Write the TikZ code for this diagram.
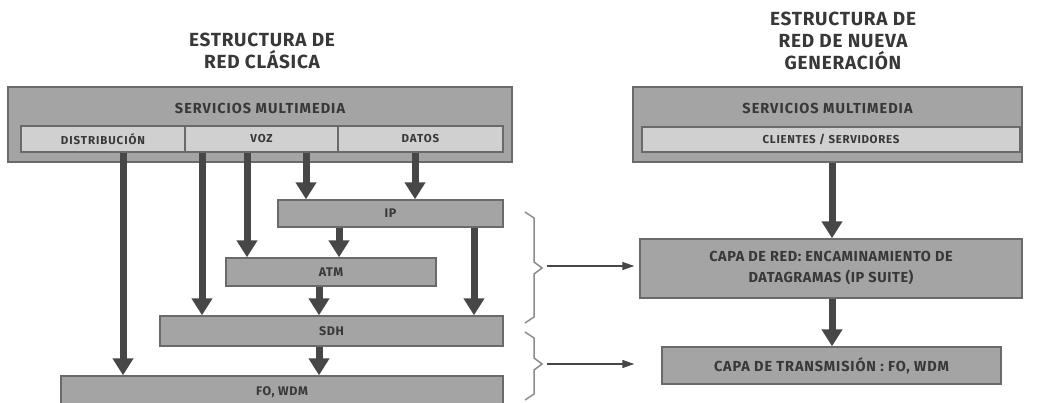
\documentclass[tikz,border=0pt]{standalone}
\usepackage{fontspec}
\setmainfont{Fira Sans}
\usetikzlibrary{arrows.meta}
\definecolor{boxfill}{HTML}{A4A4A4}
\definecolor{cellfill}{HTML}{D0D0D0}
\definecolor{edge}{HTML}{6A6A6A}
\definecolor{ink}{HTML}{383838}
\definecolor{shaft}{HTML}{474747}
\definecolor{bracegray}{HTML}{8C8C8C}
% bold label font at a given size with extra tracking
\newcommand{\labfont}[2]{\bfseries\fontsize{#1}{#1}\selectfont\addfontfeature{LetterSpace=#2}}
\tikzset{
  layerbox/.style={draw=edge, line width=1.4pt, fill=boxfill, inner sep=0pt,
    text=ink, font=\labfont{12.5}{5}},
  cellbox/.style={layerbox, fill=cellfill, font=\labfont{11.5}{8}},
  headtext/.style={text=ink, align=center,
    font=\bfseries\fontsize{19}{22}\selectfont\addfontfeature{LetterSpace=4}},
  boxtitle/.style={text=ink, font=\labfont{14.5}{7}},
  flow/.style={draw=shaft, line width=7pt, -{Triangle[width=20pt,length=17pt]}},
  mapto/.style={draw=shaft, line width=1.3pt, -{Triangle[width=8pt,length=12pt]}},
  bracepath/.style={draw=bracegray, line width=1.5pt, line join=miter}
}
\begin{document}
\begin{tikzpicture}[x=1pt,y=-1pt]
\useasboundingbox[fill=white] (0,0) rectangle (1042,403);

% headings
\node[headtext] (hl) at (262,51) {ESTRUCTURA DE\\RED CLÁSICA};
\node[headtext] (hr) at (843,41) {ESTRUCTURA DE\\RED DE NUEVA\\GENERACIÓN};

% classic network: service block
\node[layerbox, minimum width=504pt, minimum height=75pt] (lsm) at (260,124.5) {};
\node[boxtitle] (lsmt) at (260,108) {SERVICIOS MULTIMEDIA};
\node[cellbox, minimum width=164pt, minimum height=26pt] (dist) at (103,139) {DISTRIBUCIÓN};
\node[cellbox, minimum width=153pt, minimum height=26pt] (voz) at (261.5,139) {VOZ};
\node[cellbox, minimum width=165pt, minimum height=26pt] (datos) at (420.5,139) {DATOS};

% classic network: transport layers
\node[layerbox, minimum width=225pt, minimum height=27pt] (ip) at (390.5,213.5) {IP};
\node[layerbox, minimum width=210pt, minimum height=28pt] (atm) at (331,272) {ATM};
\node[layerbox, minimum width=343pt, minimum height=30pt] (sdh) at (331.5,331) {SDH};
\node[layerbox, minimum width=442pt, minimum height=32pt] (fo) at (282,392) {FO, WDM};

% classic network: flows
\draw[flow] (dist.south -| 123,0) -- (fo.north -| 123,0);
\draw[flow] (voz.south -| 202,0) -- (sdh.north -| 202,0);
\draw[flow] (voz.south -| 247,0) -- (atm.north -| 247,0);
\draw[flow] (voz.south -| 306,0) -- (ip.north -| 306,0);
\draw[flow] (datos.south -| 415,0) -- (ip.north -| 415,0);
\draw[flow] (ip.south -| 339,0) -- (atm.north -| 339,0);
\draw[flow] (ip.south -| 474,0) -- (sdh.north -| 474,0);
\draw[flow] (atm.south -| 319,0) -- (sdh.north -| 319,0);
\draw[flow] (sdh.south -| 319,0) -- (fo.north -| 319,0);

% next generation network
\node[layerbox, minimum width=389pt, minimum height=75pt] (rsm) at (827.5,124.5) {};
\node[boxtitle] (rsmt) at (827.5,108) {SERVICIOS MULTIMEDIA};
\node[cellbox, minimum width=378pt, minimum height=25pt, font=\labfont{11.5}{6}] (cli) at (831,139.5) {CLIENTES / SERVIDORES};
\node[layerbox, minimum width=382pt, minimum height=59pt, align=center,
      font=\bfseries\fontsize{14.5}{21}\selectfont\addfontfeature{LetterSpace=4}] (red) at (831,268.5)
      {CAPA DE RED: ENCAMINAMIENTO DE\\DATAGRAMAS (IP SUITE)};
\node[layerbox, minimum width=339pt, minimum height=37pt,
      font=\labfont{14.5}{6}] (tx) at (831.5,365.5)
      {CAPA DE TRANSMISIÓN : FO, WDM};
\draw[flow] (rsm.south -| 832,0) -- (red.north -| 832,0);
\draw[flow] (red.south -| 832,0) -- (tx.north -| 832,0);

% braces grouping the classic layers
\draw[bracepath] (525,212) -- (534,218) -- (534,262) -- (542,268) -- (534,274) -- (534,317) -- (525,323);
\draw[bracepath] (525,332) -- (534,338) -- (534,358) -- (542,364) -- (534,370) -- (534,394) -- (525,400);
\coordinate (b1) at (547,266);
\coordinate (b2) at (547,364);
\draw[mapto] (b1) -- ([xshift=-5pt]red.west |- b1);
\draw[mapto] (b2) -- ([xshift=-27pt]tx.west |- b2);
\end{tikzpicture}
\end{document}
